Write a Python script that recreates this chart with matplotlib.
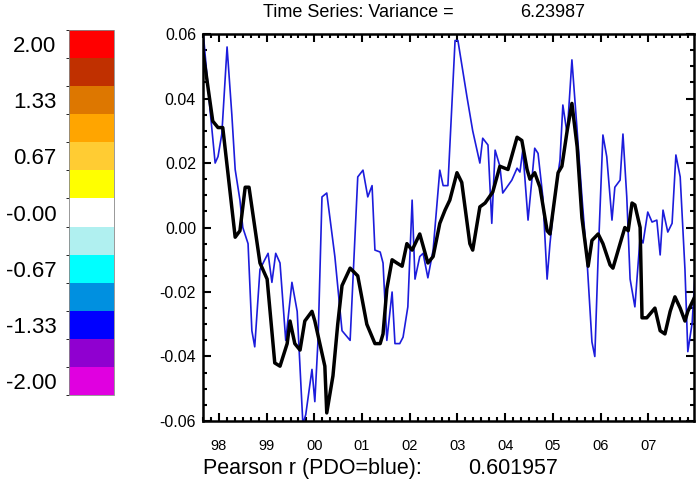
import numpy as np
import matplotlib
matplotlib.use('Agg')
import matplotlib.pyplot as plt
from matplotlib.colors import ListedColormap, BoundaryNorm
from matplotlib.cm import ScalarMappable
from matplotlib.ticker import MultipleLocator

plt.rcParams['font.family'] = ['Liberation Sans', 'DejaVu Sans']

# colour scale (bottom -> top)
cbar_colors = ['#e000e0', '#9000d0', '#0000ff', '#0090e0', '#00ffff', '#b0f0f0',
               '#ffffff', '#ffff00', '#ffcc33', '#ffa500', '#dd7700', '#c03000', '#ff0000']
cbar_ticks = [-2.0, -1.333, -0.667, 0.0, 0.667, 1.333, 2.0]
cbar_labels = ['-2.00', '-1.33', '-0.67', '-0.00', '0.67', '1.33', '2.00']

# time series (decimal year, value)
black_t = [1997.66, 1997.87, 1997.98, 1998.08, 1998.34, 1998.44, 1998.55, 1998.63, 1998.86, 1999.01,
           1999.17, 1999.28, 1999.43, 1999.49, 1999.59, 1999.70, 1999.80, 1999.95, 2000.01, 2000.22,
           2000.26, 2000.39, 2000.49, 2000.58, 2000.75, 2000.91, 2001.10, 2001.27, 2001.38, 2001.44,
           2001.52, 2001.63, 2001.73, 2001.84, 2001.94, 2002.05, 2002.21, 2002.38, 2002.49, 2002.63,
           2002.74, 2002.84, 2002.99, 2003.09, 2003.26, 2003.32, 2003.47, 2003.58, 2003.74, 2003.89,
           2004.06, 2004.25, 2004.35, 2004.46, 2004.52, 2004.62, 2004.73, 2004.88, 2004.94, 2005.11,
           2005.19, 2005.30, 2005.40, 2005.51, 2005.61, 2005.74, 2005.82, 2005.95, 2006.05, 2006.20,
           2006.26, 2006.41, 2006.51, 2006.58, 2006.66, 2006.72, 2006.83, 2006.87, 2006.97, 2007.14,
           2007.25, 2007.35, 2007.46, 2007.56, 2007.67, 2007.77, 2007.83, 2007.96]
black_v = [0.055, 0.033, 0.031, 0.031, -0.003, -0.001, 0.0125, 0.0125, -0.011, -0.016,
           -0.042, -0.043, -0.036, -0.029, -0.036, -0.038, -0.029, -0.026, -0.029, -0.043,
           -0.0575, -0.046, -0.030, -0.018, -0.0126, -0.015, -0.030, -0.036, -0.036, -0.033,
           -0.019, -0.010, -0.011, -0.012, -0.005, -0.007, -0.002, -0.011, -0.009, 0.0013,
           0.0054, 0.0085, 0.017, 0.014, -0.005, -0.007, 0.0064, 0.0076, 0.011, 0.019,
           0.018, 0.028, 0.027, 0.018, 0.015, 0.017, 0.0125, -0.001, -0.002, 0.017,
           0.019, 0.030, 0.0385, 0.025, 0.003, -0.012, -0.004, -0.002, -0.005, -0.0116,
           -0.0126, -0.005, 0.000, -0.001, 0.0076, 0.007, 0.000, -0.028, -0.028, -0.025,
           -0.032, -0.033, -0.026, -0.0215, -0.025, -0.029, -0.026, -0.022]

blue_t = [1997.66, 1997.81, 1997.92, 1997.98, 1998.06, 1998.17, 1998.27, 1998.34, 1998.44, 1998.50,
          1998.61, 1998.69, 1998.75, 1998.86, 1998.96, 1999.03, 1999.11, 1999.19, 1999.28, 1999.40,
          1999.53, 1999.64, 1999.76, 1999.82, 1999.95, 2000.01, 2000.08, 2000.16, 2000.26, 2000.43,
          2000.58, 2000.75, 2000.91, 2001.02, 2001.12, 2001.21, 2001.27, 2001.38, 2001.44, 2001.52,
          2001.63, 2001.69, 2001.79, 2001.86, 2001.96, 2002.05, 2002.11, 2002.21, 2002.28, 2002.38,
          2002.49, 2002.63, 2002.70, 2002.80, 2002.95, 2003.01, 2003.20, 2003.32, 2003.47, 2003.53,
          2003.64, 2003.72, 2003.79, 2003.89, 2003.95, 2004.14, 2004.25, 2004.31, 2004.37, 2004.48,
          2004.56, 2004.62, 2004.69, 2004.79, 2004.88, 2004.94, 2005.04, 2005.15, 2005.21, 2005.30,
          2005.40, 2005.51, 2005.61, 2005.72, 2005.82, 2005.88, 2005.95, 2006.05, 2006.13, 2006.24,
          2006.30, 2006.41, 2006.47, 2006.55, 2006.62, 2006.72, 2006.83, 2006.89, 2006.99, 2007.08,
          2007.18, 2007.25, 2007.31, 2007.41, 2007.50, 2007.58, 2007.67, 2007.77, 2007.83, 2007.92,
          2007.98]
blue_v = [0.062, 0.037, 0.020, 0.022, 0.029, 0.056, 0.035, 0.018, 0.0085, 0.000,
          -0.005, -0.032, -0.037, -0.013, -0.010, -0.008, -0.017, -0.008, -0.011, -0.035,
          -0.017, -0.026, -0.061, -0.058, -0.044, -0.054, -0.034, 0.0095, 0.0107, -0.009,
          -0.032, -0.035, 0.0157, 0.0178, 0.0095, 0.013, -0.007, -0.0076, -0.011, -0.035,
          -0.020, -0.036, -0.036, -0.034, -0.0246, 0.0085, -0.016, -0.009, -0.008, -0.0156,
          -0.007, 0.0178, 0.013, 0.013, 0.058, 0.058, 0.0405, 0.030, 0.020, 0.0277,
          0.0256, 0.0013, 0.024, 0.019, 0.0107, 0.0147, 0.0184, 0.0172, 0.024, 0.0023,
          0.0147, 0.0246, 0.023, 0.0095, -0.016, -0.005, 0.0095, 0.0209, 0.038, 0.029,
          0.052, 0.030, 0.0095, -0.011, -0.0355, -0.040, -0.009, 0.0287, 0.022, 0.0023,
          0.0125, 0.0147, 0.029, 0.0095, -0.016, -0.0246, -0.003, -0.0048, 0.0048, 0.0017,
          0.0023, -0.0085, 0.0054, -0.0014, 0.0013, 0.0225, 0.0157, -0.013, -0.0385, -0.0297,
          -0.015]

years = list(range(1998, 2008))
year_labels = ['98', '99', '00', '01', '02', '03', '04', '05', '06', '07']

variance = 6.23987
pearson_r = 0.601957

fig = plt.figure(figsize=(6.98, 4.91), dpi=100)

# colour bar
cax = fig.add_axes([0.0989, 0.1955, 0.0645, 0.7434])
bounds = np.linspace(-2.1667, 2.1667, len(cbar_colors) + 1)
cmap = ListedColormap(cbar_colors)
norm = BoundaryNorm(bounds, cmap.N)
cb = fig.colorbar(ScalarMappable(norm=norm, cmap=cmap), cax=cax, ticks=cbar_ticks)
cb.ax.yaxis.set_ticks_position('left')
cb.set_ticklabels(cbar_labels)
cb.ax.tick_params(length=0, labelsize=16, pad=9)
cb.outline.set_linewidth(0.6)
cb.outline.set_edgecolor('#888888')

# time series
ax = fig.add_axes([0.2908, 0.1426, 0.7035, 0.788])
ax.plot(blue_t, blue_v, color='#1c1cdc', lw=1.2)
ax.plot(black_t, black_v, color='black', lw=2.5)
ax.set_xlim(1997.665, 2007.96)
ax.set_ylim(-0.06, 0.06)
ax.set_xticks(years)
ax.set_xticklabels(year_labels)
ax.xaxis.set_minor_locator(MultipleLocator(1 / 6))
ax.set_yticks([-0.06, -0.04, -0.02, 0.0, 0.02, 0.04, 0.06])
ax.set_yticklabels(['-0.06', '-0.04', '-0.02', '0.00', '0.02', '0.04', '0.06'])
ax.yaxis.set_minor_locator(MultipleLocator(0.005))
ax.tick_params(which='both', direction='in', top=True, right=True, width=1.5)
ax.tick_params(which='major', length=6)
ax.tick_params(which='minor', length=3)
ax.tick_params(axis='x', labelsize=10.5, pad=13)
ax.tick_params(axis='y', labelsize=11.5, pad=5)
for s in ax.spines.values():
    s.set_linewidth(1.8)

fig.text(0.377, 0.975, 'Time Series: Variance =', ha='left', va='center', fontsize=13)
fig.text(0.745, 0.975, '%.5f' % variance, ha='left', va='center', fontsize=13)
fig.text(0.2908, 0.045, 'Pearson r (PDO=blue):', ha='left', va='center', fontsize=15.5)
fig.text(0.670, 0.045, '%.6f' % pearson_r, ha='left', va='center', fontsize=15.5)

fig.savefig('out.png', dpi=100)
